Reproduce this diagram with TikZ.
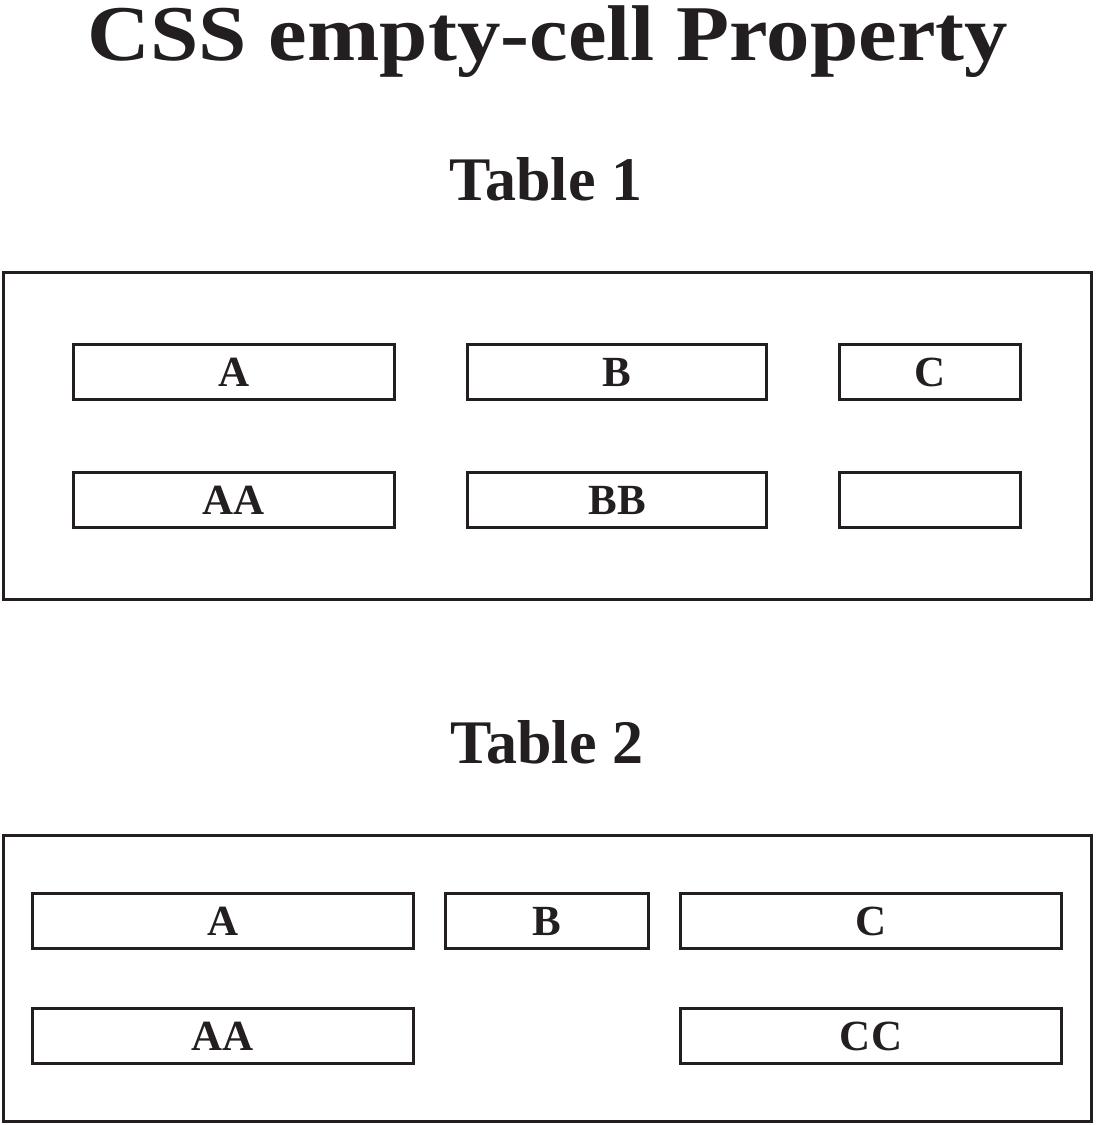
\documentclass[tikz,border=0pt]{standalone}
\usepackage{fontspec}
\usepackage{graphicx}
\setmainfont{Liberation Serif}
\definecolor{ink}{RGB}{35,31,32}
\begin{document}
\begin{tikzpicture}[x=1pt,y=-1pt,
  frame/.style={draw=ink, line width=3pt},
  cell/.style={draw=ink, line width=3pt, inner sep=0pt, text=ink,
    minimum height=55pt, text height=28pt, text depth=0pt,
    font=\fontsize{43}{43}\selectfont\bfseries},
  heading/.style={anchor=base, text=ink, inner sep=0pt,
    font=\fontsize{62}{62}\selectfont\bfseries},
  titlestyle/.style={anchor=base, text=ink, inner sep=0pt,
    font=\fontsize{79}{79}\selectfont\bfseries}]
\useasboundingbox (0,0) rectangle (1096,1125);

% title and headings
\node[titlestyle] (title) at (548,60) {\scalebox{1.10}[1]{CSS empty-cell Property}};
\node[heading] (h1) at (546,200) {Table 1};
\node[heading] (h2) at (547,763) {Table 2};

% table 1
\draw[frame] (3.5,272.5) rectangle (1091.5,599.5);
\node[cell, minimum width=321pt] (t1a)  at (234,372) {A};
\node[cell, minimum width=299pt] (t1b)  at (617,372) {B};
\node[cell, minimum width=181pt] (t1c)  at (930,372) {C};
\node[cell, minimum width=321pt] (t1aa) at (234,500) {AA};
\node[cell, minimum width=299pt] (t1bb) at (617,500) {BB};
\node[cell, minimum width=181pt] (t1cc) at (930,500) {};

% table 2
\draw[frame] (3.5,835.5) rectangle (1091.5,1121.5);
\node[cell, minimum width=381pt] (t2a)  at (223,921) {A};
\node[cell, minimum width=203pt] (t2b)  at (547,921) {B};
\node[cell, minimum width=381pt] (t2c)  at (871,921) {C};
\node[cell, minimum width=381pt] (t2aa) at (223,1036) {AA};
\node[cell, minimum width=381pt] (t2cc) at (871,1036) {CC};
\end{tikzpicture}
\end{document}
